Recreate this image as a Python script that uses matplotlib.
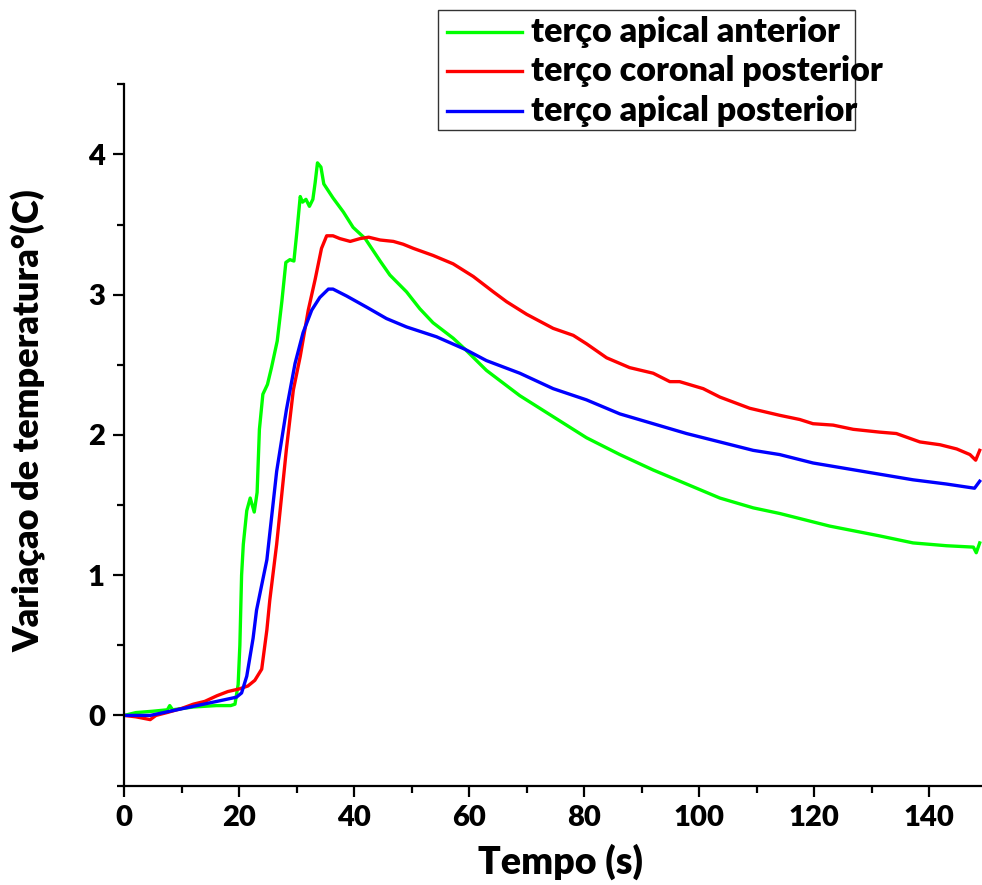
import matplotlib
matplotlib.use("Agg")
import matplotlib.pyplot as plt
from matplotlib.lines import Line2D
from matplotlib.patches import Rectangle

plt.rcParams['font.family'] = ['Lato', 'DejaVu Sans']
plt.rcParams['font.weight'] = 'bold'

# terço apical anterior (green)
t_green = [0, 2, 5, 7.5, 7.9, 8.4, 12, 16, 18.5, 19.25, 19.8, 20.1, 20.4, 20.7,
           21.3, 21.9, 22.6, 23.1, 23.5, 24.1, 24.9, 25.6, 26.6, 27.4, 28.1, 28.8,
           29.5, 30.0, 30.6, 31.0, 31.6, 32.2, 32.8, 33.2, 33.6, 34.2, 34.7, 36.3,
           38.1, 39.8, 41.9, 44.5, 46.2, 49.1, 51.4, 53.7, 57.2, 59.3, 63.0, 68.8,
           74.6, 80.4, 86.2, 92.0, 97.8, 103.6, 109.4, 114.0, 122.7, 131.4, 137.2,
           143.0, 147.7, 148.2, 148.8]
v_green = [0.0, 0.02, 0.03, 0.04, 0.07, 0.04, 0.06, 0.07, 0.07, 0.08, 0.22, 0.5, 1.0, 1.22,
           1.46, 1.55, 1.45, 1.59, 2.04, 2.29, 2.36, 2.48, 2.67, 2.95, 3.23, 3.25,
           3.24, 3.44, 3.70, 3.66, 3.68, 3.63, 3.68, 3.80, 3.94, 3.91, 3.79, 3.69,
           3.59, 3.48, 3.40, 3.24, 3.14, 3.02, 2.90, 2.80, 2.69, 2.61, 2.46, 2.28,
           2.13, 1.98, 1.86, 1.75, 1.65, 1.55, 1.48, 1.44, 1.35, 1.28, 1.23,
           1.21, 1.20, 1.16, 1.23]

# terço coronal posterior (red)
t_red = [0, 2, 4.5, 5.5, 7.4, 10, 12, 14, 16.1, 18, 20.1, 21.5, 22.7, 23.9, 24.8,
         25.3, 26.5, 28.2, 29.4, 30.6, 32.0, 33.2, 34.3, 35.2, 36.3, 37.5, 39.3,
         41.0, 42.5, 44.5, 46.8, 48.5, 50.3, 53.7, 57.2, 60.7, 64.2, 66.5, 70.0,
         74.6, 78.1, 80.4, 83.9, 87.9, 92.0, 94.9, 96.6, 100.7, 103.6, 108.8,
         114.0, 117.5, 119.8, 123.3, 126.8, 131.4, 134.3, 138.4, 141.9, 144.8,
         147.1, 148.1, 148.8]
v_red = [0.0, -0.01, -0.03, 0.0, 0.02, 0.05, 0.08, 0.10, 0.14, 0.17, 0.19, 0.21, 0.25, 0.33, 0.61,
         0.82, 1.22, 1.90, 2.32, 2.56, 2.89, 3.11, 3.33, 3.42, 3.42, 3.40, 3.38,
         3.40, 3.41, 3.39, 3.38, 3.36, 3.33, 3.28, 3.22, 3.13, 3.02, 2.95, 2.86,
         2.76, 2.71, 2.65, 2.55, 2.48, 2.44, 2.38, 2.38, 2.33, 2.27, 2.19,
         2.14, 2.11, 2.08, 2.07, 2.04, 2.02, 2.01, 1.95, 1.93, 1.90,
         1.86, 1.82, 1.89]

# terço apical posterior (blue)
t_blue = [0, 4.5, 10.3, 16.1, 19.5, 20.4, 21.3, 22.4, 23.0, 24.8, 26.5, 28.2, 29.7,
          31.1, 32.6, 34.0, 35.5, 36.3, 38.7, 42.2, 45.6, 49.1, 54.3, 59.3, 63.0,
          68.8, 74.6, 80.4, 86.2, 92.0, 97.8, 103.6, 109.4, 114.0, 119.8, 125.6,
          131.4, 137.2, 143.0, 147.9, 148.8]
v_blue = [0.0, 0.0, 0.05, 0.10, 0.13, 0.16, 0.28, 0.55, 0.75, 1.11, 1.74, 2.18, 2.51,
          2.73, 2.89, 2.98, 3.04, 3.04, 2.99, 2.91, 2.83, 2.77, 2.70, 2.61, 2.53,
          2.44, 2.33, 2.25, 2.15, 2.08, 2.01, 1.95, 1.89, 1.86, 1.80, 1.76,
          1.72, 1.68, 1.65, 1.62, 1.67]

labels = ['terço apical anterior', 'terço coronal posterior', 'terço apical posterior']
colors = ['#00ff00', '#ff0000', '#0000ff']

fig = plt.figure(figsize=(9.82, 8.85), dpi=100)
ax = fig.add_axes([0.1266, 0.1124, 0.8734, 0.7923])

lw = 2.4
ax.plot(t_green, v_green, color=colors[0], lw=lw)
ax.plot(t_red, v_red, color=colors[1], lw=lw)
ax.plot(t_blue, v_blue, color=colors[2], lw=lw)

ax.set_xlim(0, 149.2)
ax.set_ylim(-0.5, 4.5)
ax.set_xticks([0, 20, 40, 60, 80, 100, 120, 140])
ax.set_xticks(range(10, 150, 20), minor=True)
ax.set_yticks([0, 1, 2, 3, 4])
ax.set_yticks([-0.5, 0.5, 1.5, 2.5, 3.5, 4.5], minor=True)

for s in ['top', 'right']:
    ax.spines[s].set_visible(False)
for s in ['left', 'bottom']:
    ax.spines[s].set_linewidth(1.6)
ax.tick_params(which='major', direction='out', length=8, width=1.6, labelsize=21, pad=6)
ax.tick_params(which='minor', direction='out', length=5, width=1.6)
for lab in ax.get_xticklabels() + ax.get_yticklabels():
    lab.set_fontweight('heavy')

ax.set_xlabel('Tempo (s)', fontsize=27, fontweight='heavy')
ax.set_ylabel('Variaçao de temperatura°(C)', fontsize=26, fontweight='heavy')
ax.xaxis.set_label_coords(0.509, -0.083)
ax.yaxis.set_label_coords(-0.091, 0.52)

# legend box, text runs past the frame like in the original
fig.patches.append(Rectangle((438 / 982, 1 - 130 / 885), (855 - 438) / 982, 120 / 885,
                             transform=fig.transFigure, fill=False, lw=1.0,
                             edgecolor='#333333'))
rows = [31.7, 71, 111]
for lab, c, yp in zip(labels, colors, rows):
    yf = 1 - yp / 885
    fig.add_artist(Line2D([447 / 982, 522 / 982], [yf, yf], color=c, lw=lw,
                          transform=fig.transFigure))
    fig.text(531 / 982, yf, lab, fontsize=24.5, fontweight='heavy', va='center', ha='left')

fig.savefig('out.png', dpi=100)
